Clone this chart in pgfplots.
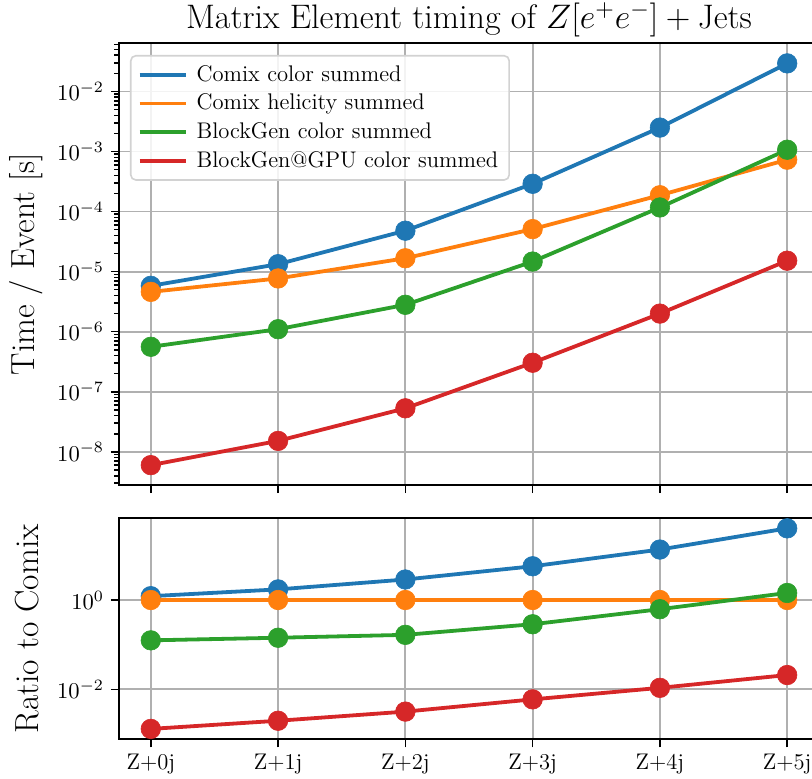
\RequirePackage{fix-cm}
\documentclass[border=0pt]{standalone}
\usepackage{fontspec}
\usepackage{pgfplots}
\pgfplotsset{compat=1.18}
\definecolor{cblue}{HTML}{1F77B4}
\definecolor{corange}{HTML}{FF7F0E}
\definecolor{cgreen}{HTML}{2CA02C}
\definecolor{cred}{HTML}{D62728}
\definecolor{gridgray}{HTML}{B0B0B0}
\pgfplotstableread{
x blue orange green red
0 5.8e-6 4.6e-6 5.6e-7 6.0e-9
1 1.33e-5 7.7e-6 1.1e-6 1.52e-8
2 4.8e-5 1.67e-5 2.8e-6 5.3e-8
3 2.9e-4 5.1e-5 1.47e-5 3.04e-7
4 2.5e-3 1.87e-4 1.17e-4 2.0e-6
5 2.93e-2 7.3e-4 1.07e-3 1.52e-5
}\toptable
\pgfplotstableread{
x blue orange green red
0 1.22 1 0.125 1.3e-3
1 1.73 1 0.143 1.98e-3
2 2.88 1 0.166 3.17e-3
3 5.7 1 0.287 5.96e-3
4 13.5 1 0.623 1.08e-2
5 40.3 1 1.44 2.09e-2
}\bottable
\begin{document}
\begin{tikzpicture}
\pgfplotsset{
  every axis/.append style={
    scale only axis, width=350pt,
    xmin=-0.25, xmax=5.25, ymode=log,
    axis line style={line width=0.9pt},
    tick align=outside, major tick length=4pt, minor tick length=2.3pt,
    every tick/.style={black, line width=0.8pt},
    grid=major, major grid style={gridgray, line width=0.9pt},
    xtick={0,1,2,3,4,5}, xtick pos=bottom, ytick pos=left,
    tick label style={font=\fontsize{11.3}{13.5}\selectfont},
    label style={font=\fontsize{16.7}{19}\selectfont},
    every axis plot/.append style={line width=1.9pt, mark=*, mark size=4.9pt, mark options={line width=0.3pt}},
    clip=false,
  },
}
\begin{axis}[
  at={(59.5pt,146.5pt)}, anchor=south west, height=221pt,
  ymin=2.8e-9, ymax=6.4e-2,
  xticklabels={},
  ytick={1e-8,1e-7,1e-6,1e-5,1e-4,1e-3,1e-2},
  minor ytick={3e-9,4e-9,5e-9,6e-9,7e-9,8e-9,9e-9,
    2e-8,3e-8,4e-8,5e-8,6e-8,7e-8,8e-8,9e-8,
    2e-7,3e-7,4e-7,5e-7,6e-7,7e-7,8e-7,9e-7,
    2e-6,3e-6,4e-6,5e-6,6e-6,7e-6,8e-6,9e-6,
    2e-5,3e-5,4e-5,5e-5,6e-5,7e-5,8e-5,9e-5,
    2e-4,3e-4,4e-4,5e-4,6e-4,7e-4,8e-4,9e-4,
    2e-3,3e-3,4e-3,5e-3,6e-3,7e-3,8e-3,9e-3,
    2e-2,3e-2,4e-2,5e-2,6e-2},
  ylabel={Time / Event [s]},
  ylabel style={at={(axis description cs:-0.132,0.5)}, anchor=center},
  title={Matrix Element timing of $Z[e^+e^-] + \mathrm{Jets}$},
  every axis title shift=0pt,
  title style={font=\fontsize{17}{19}\selectfont, at={(axis description cs:0.5,1)}, anchor=center, yshift=11.6pt},
  legend cell align=left,
  legend image code/.code={\draw[#1, mark=none, line width=1.9pt] (0pt,0pt) -- (23pt,0pt); \path (25.5pt,0pt);},
  legend style={at={(axis description cs:0.0157,0.973)}, anchor=north west,
    draw=gray!35, line width=0.8pt, rounded corners=2.5pt, fill=white, fill opacity=0.85, text opacity=1,
    font=\fontsize{11.3}{13.5}\selectfont, row sep=0.9pt, inner xsep=3.5pt, inner ysep=2.8pt,
    /tikz/every even column/.append style={column sep=3pt}},
]
\addplot[cblue] table[x=x,y=blue]{\toptable};
\addlegendentry{Comix color summed}
\addplot[corange] table[x=x,y=orange]{\toptable};
\addlegendentry{Comix helicity summed}
\addplot[cgreen] table[x=x,y=green]{\toptable};
\addlegendentry{BlockGen color summed}
\addplot[cred] table[x=x,y=red]{\toptable};
\addlegendentry{BlockGen@GPU color summed}
\end{axis}
\begin{axis}[
  at={(59.5pt,19.35pt)}, anchor=south west, height=110.5pt,
  ymin=7.6e-4, ymax=67.6,
  xticklabels={Z+0j,Z+1j,Z+2j,Z+3j,Z+4j,Z+5j},
  ytick={1e-2,1}, minor ytick={}, minor tick length=0pt,
  ylabel={Ratio to Comix},
  ylabel style={at={(axis description cs:-0.132,0.5)}, anchor=center},
]
\addplot[cblue] table[x=x,y=blue]{\bottable};
\addplot[corange] table[x=x,y=orange]{\bottable};
\addplot[cgreen] table[x=x,y=green]{\bottable};
\addplot[cred] table[x=x,y=red]{\bottable};
\end{axis}
\pgfresetboundingbox
\useasboundingbox (0pt,0pt) rectangle (406pt,389pt);
\end{tikzpicture}
\end{document}
